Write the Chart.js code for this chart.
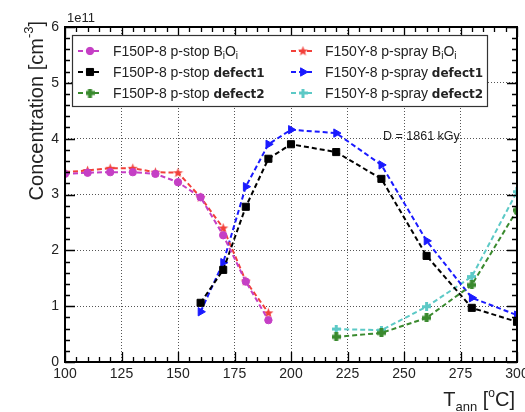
<!DOCTYPE html>
<html>
<head>
<meta charset="utf-8">
<script src="https://cdn.jsdelivr.net/npm/chart.js@4"></script>
<style>
  body { margin: 0; background: #fff; }
  canvas { display: block; }
</style>
</head>
<body>
<canvas id="annealChart" width="525" height="412"></canvas>
<script>
// annealing temperatures (°C) and concentrations (x 1e11 cm^-3)
const tempBiOi = [100, 110, 120, 130, 140, 150, 160, 170, 180, 190];
const pStopBiOi = [3.37, 3.39, 3.40, 3.40, 3.37, 3.22, 2.95, 2.27, 1.44, 0.75];
const pSprayBiOi = [3.40, 3.43, 3.47, 3.47, 3.40, 3.39, 2.95, 2.40, 1.45, 0.88];

const tempDefect1 = [160, 170, 180, 190, 200, 220, 240, 260, 280, 300];
const pStopDefect1 = [1.06, 1.65, 2.78, 3.64, 3.90, 3.76, 3.28, 1.90, 0.97, 0.72];
const pSprayDefect1 = [0.90, 1.78, 3.14, 3.90, 4.16, 4.10, 3.53, 2.17, 1.15, 0.84];

const tempDefect2 = [220, 240, 260, 280, 300];
const pStopDefect2 = [0.45, 0.52, 0.79, 1.38, 2.72];
const pSprayDefect2 = [0.59, 0.57, 0.99, 1.53, 3.05];

const xTicks = [100, 125, 150, 175, 200, 225, 250, 275, 300];
const yTicks = [0, 1, 2, 3, 4, 5, 6];

const FONT = "Liberation Sans, Arial, sans-serif";

function makeStar(color) {
    const c = document.createElement("canvas");
    c.width = 11; c.height = 11;
    const g = c.getContext("2d");
    g.fillStyle = color;
    g.beginPath();
    for (let i = 0; i < 10; i++) {
        const r = i % 2 === 0 ? 5.3 : 2.2;
        const a = -Math.PI / 2 + i * Math.PI / 5;
        g.lineTo(5.5 + r * Math.cos(a), 5.8 + r * Math.sin(a));
    }
    g.closePath();
    g.fill();
    return c;
}

function makeCross(color, arm) {
    const c = document.createElement("canvas");
    c.width = 9; c.height = 9;
    const g = c.getContext("2d");
    g.fillStyle = color;
    const o = (9 - arm) / 2;
    g.fillRect(o, 0, arm, 9);
    g.fillRect(0, o, 9, arm);
    return c;
}

function pts(xs, ys) {
    return xs.map((x, i) => ({ x: x, y: ys[i] }));
}

function series(label, xs, ys, color, style, radius, rotation) {
    return {
        label: label,
        data: pts(xs, ys),
        borderColor: color,
        backgroundColor: color,
        pointBackgroundColor: color,
        pointBorderColor: color,
        pointStyle: style,
        pointRadius: radius,
        pointBorderWidth: 1,
        pointRotation: rotation || 0,
        borderWidth: 2,
        borderDash: [5, 3],
        tension: 0,
        fill: false
    };
}

const magenta = "#c53fc5";
const red = "#f2403a";
const black = "#000000";
const blue = "#1a1aff";
const green = "#3a8a2e";
const cyan = "#5cc9c6";

const datasets = [
    series("F150P-8 p-stop BiOi", tempBiOi, pStopBiOi, magenta, "circle", 3.7),
    series("F150P-8 p-stop defect1", tempDefect1, pStopDefect1, black, "rect", 5),
    series("F150P-8 p-stop defect2", tempDefect2, pStopDefect2, green, makeCross(green, 4), 4.5),
    series("F150Y-8 p-spray BiOi", tempBiOi, pSprayBiOi, red, makeStar(red), 5),
    series("F150Y-8 p-spray defect1", tempDefect1, pSprayDefect1, blue, "triangle", 4.8, 90),
    series("F150Y-8 p-spray defect2", tempDefect2, pSprayDefect2, cyan, makeCross(cyan, 3), 4.5)
];

// segments: [text, font, dy]
function drawRich(ctx, x, y, segs) {
    let cx = x;
    segs.forEach(s => {
        ctx.font = s[1];
        ctx.fillText(s[0], cx, y + (s[2] || 0));
        cx += ctx.measureText(s[0]).width;
    });
    return cx;
}

function richWidth(ctx, segs) {
    let w = 0;
    segs.forEach(s => { ctx.font = s[1]; w += ctx.measureText(s[0]).width; });
    return w;
}

const rootStyle = {
    id: "rootStyle",
    afterDraw(chart) {
        const ctx = chart.ctx;
        const a = chart.chartArea;
        const xs = chart.scales.x;
        const ys = chart.scales.y;
        ctx.save();

        // ticks on all sides
        ctx.strokeStyle = "#000";
        ctx.lineWidth = 1.3;
        ctx.beginPath();
        for (let v = 100; v <= 300; v += 5) {
            const px = Math.round(xs.getPixelForValue(v)) + 0.5;
            const len = v % 25 === 0 ? 10 : 5;
            ctx.moveTo(px, a.bottom); ctx.lineTo(px, a.bottom - len);
            ctx.moveTo(px, a.top); ctx.lineTo(px, a.top + len);
        }
        for (let k = 0; k <= 30; k++) {
            const v = k * 0.2;
            const py = Math.round(ys.getPixelForValue(v)) + 0.5;
            const len = k % 5 === 0 ? 10 : 5;
            ctx.moveTo(a.left, py); ctx.lineTo(a.left + len, py);
            ctx.moveTo(a.right, py); ctx.lineTo(a.right - len, py);
        }
        ctx.stroke();

        // frame
        ctx.lineWidth = 2;
        ctx.strokeRect(a.left, a.top, a.right - a.left, a.bottom - a.top);

        ctx.fillStyle = "#222";
        ctx.textBaseline = "alphabetic";
        ctx.textAlign = "left";

        // exponent
        ctx.font = "13px " + FONT;
        ctx.fillText("1e11", a.left + 2, 22);

        // dose label
        ctx.font = "12.5px " + FONT;
        ctx.fillText("D = 1861 kGy", 383, 140);

        // x title
        const xt = [["T", "20px " + FONT, 0], ["ann", "13px " + FONT, 5], [" [", "20px " + FONT, 0],
                    ["o", "12px " + FONT, -9], ["C]", "20px " + FONT, 0]];
        drawRich(ctx, 515 - richWidth(ctx, xt), 406, xt);

        // y title
        const yt = [["Concentration [cm", "20px " + FONT, 0], ["-3", "13px " + FONT, -10], ["]", "20px " + FONT, 0]];
        ctx.save();
        ctx.translate(43, 21);
        ctx.rotate(-Math.PI / 2);
        drawRich(ctx, -richWidth(ctx, yt), 0, yt);
        ctx.restore();

        // legend
        const box = { l: 72, t: 35, r: 487, b: 106 };
        ctx.fillStyle = "#fff";
        ctx.fillRect(box.l, box.t, box.r - box.l, box.b - box.t);
        ctx.strokeStyle = "#333";
        ctx.lineWidth = 1.2;
        ctx.strokeRect(box.l + 0.5, box.t + 0.5, box.r - box.l, box.b - box.t);

        const rows = [51, 72, 93];
        const cols = [{ m: 90, t: 113 }, { m: 303, t: 325 }];
        const nf = "14px " + FONT;
        const bf = "bold 12px DejaVu Sans, sans-serif";
        const sub = "10px " + FONT;
        const texts = [
            [["F150P-8 p-stop B", nf, 0], ["i", sub, 3], ["O", nf, 0], ["i", sub, 3]],
            [["F150P-8 p-stop ", nf, 0], ["defect1", bf, 0]],
            [["F150P-8 p-stop ", nf, 0], ["defect2", bf, 0]],
            [["F150Y-8 p-spray B", nf, 0], ["i", sub, 3], ["O", nf, 0], ["i", sub, 3]],
            [["F150Y-8 p-spray ", nf, 0], ["defect1", bf, 0]],
            [["F150Y-8 p-spray ", nf, 0], ["defect2", bf, 0]]
        ];
        datasets.forEach((ds, i) => {
            const col = cols[Math.floor(i / 3)];
            const y = rows[i % 3];
            ctx.strokeStyle = ds.borderColor;
            ctx.lineWidth = 2;
            ctx.setLineDash([5, 3]);
            ctx.beginPath();
            ctx.moveTo(col.m - 12, y); ctx.lineTo(col.m + 12, y);
            ctx.stroke();
            ctx.setLineDash([]);
            ctx.fillStyle = ds.pointBackgroundColor;
            ctx.lineWidth = 1;
            Chart.helpers.drawPoint(ctx, {
                pointStyle: ds.pointStyle,
                radius: ds.pointRadius,
                rotation: ds.pointRotation,
                borderWidth: 1
            }, col.m, y);
            ctx.fillStyle = "#222";
            drawRich(ctx, col.t, y + 5, texts[i]);
        });

        ctx.restore();
    }
};

new Chart(document.getElementById("annealChart"), {
    type: "line",
    data: { datasets: datasets },
    options: {
        responsive: false,
        animation: false,
        layout: { padding: { left: 0, top: 27, right: 8, bottom: 0 } },
        plugins: {
            legend: { display: false },
            tooltip: { enabled: false }
        },
        scales: {
            x: {
                type: "linear",
                min: 100,
                max: 300,
                afterBuildTicks: s => { s.ticks = xTicks.map(v => ({ value: v })); },
                afterFit: s => { s.height = 50; s.paddingLeft = 0; s.paddingRight = 0; },
                ticks: {
                    autoSkip: false,
                    maxRotation: 0,
                    padding: 4,
                    color: "#222",
                    font: { family: FONT, size: 14 }
                },
                grid: {
                    drawTicks: false,
                    color: "#555",
                    lineWidth: 1
                },
                border: { display: false, dash: [1, 2] }
            },
            y: {
                min: 0,
                max: 6,
                afterBuildTicks: s => { s.ticks = yTicks.map(v => ({ value: v })); },
                afterFit: s => { s.width = 65; s.paddingTop = 0; s.paddingBottom = 0; },
                ticks: {
                    padding: 6,
                    color: "#222",
                    font: { family: FONT, size: 14 }
                },
                grid: {
                    drawTicks: false,
                    color: "#555",
                    lineWidth: 1
                },
                border: { display: false, dash: [1, 2] }
            }
        }
    },
    plugins: [rootStyle]
});
</script>
</body>
</html>
